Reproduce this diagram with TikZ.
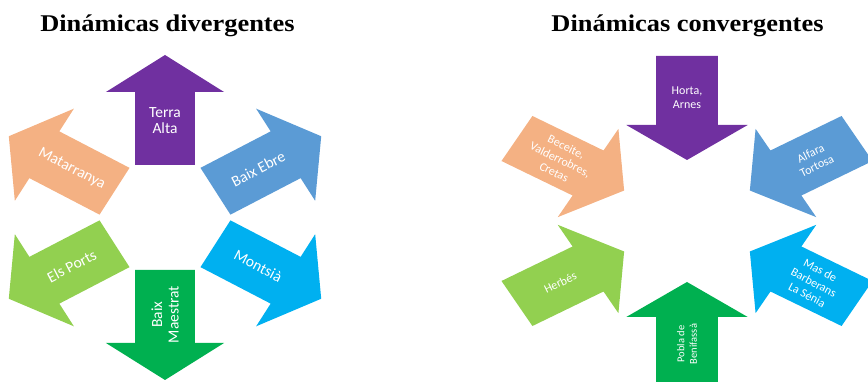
\documentclass[tikz,border=0pt]{standalone}
\usepackage{fontspec}
\setmainfont{Liberation Serif}
\newfontfamily\carlito{Carlito}
\definecolor{arpurple}{HTML}{7030A0}
\definecolor{arblue}{HTML}{5B9BD5}
\definecolor{arcyan}{HTML}{00B0F0}
\definecolor{argreen}{HTML}{00B050}
\definecolor{arlime}{HTML}{92D050}
\definecolor{arpeach}{HTML}{F4B183}
\begin{document}
\begin{tikzpicture}[x=1pt, y=1pt,
                    title/.style={font=\fontsize{24}{28}\selectfont\bfseries, anchor=base},
                    lbl/.style={text=white, align=center, inner sep=0pt, font=\carlito\fontsize{15.5}{16.5}\selectfont},
                    slbl/.style={text=white, align=center, inner sep=0pt, font=\carlito\fontsize{12}{14}\selectfont}
                    ]
    \useasboundingbox (0,0) rectangle (868,382);
    \def\Lx{165}   \def\Ly{164.5}
    \def\Rx{687}   \def\Ry{161}
    
    \coordinate (L) at (\Lx,\Ly);
    \coordinate (R) at (\Rx,\Ry);
    
    \node[title] (tdiv) at (167.5,350.5) {\scalebox{1.1}[1]{Dinámicas divergentes}};
    \node[title] (tcon) at (687.5,350.5) {\scalebox{1.1}[1]{Dinámicas convergentes}};
    
    \begin{scope}[shift={(L)}, xscale=1.11]
        \foreach \a/\c in {90/arpurple, 30/arblue, -30/arcyan, -90/argreen, 210/arlime, 150/arpeach}
            \fill[\c, rotate=\a] (52.5,-27) -- (125.5,-27) -- (125.5,-53.2) -- (162.5,0)
                -- (125.5,53.2) -- (125.5,27) -- (52.5,27) -- cycle;
        \node[lbl] (terra) at (90:97) {Terra\\Alta};
        \node[lbl, rotate=27.5] (ebre) at (30:97) {Baix Ebre};
        \node[lbl, rotate=-27.5] (montsia) at (-30:97) {Montsià};
        \node[lbl, rotate=90] (maestrat) at (-90:97) {Baix\\Maestrat};
        \node[lbl, rotate=27.5] (ports) at (210:97) {Els Ports};
        \node[lbl, rotate=-27.5] (matarranya) at (150:97) {Matarranya};
    \end{scope}
    
    \begin{scope}[shift={(R)}, xscale=1.19]
        \foreach \a/\c in {90/arpurple, 30/arblue, -30/arcyan, -90/argreen, 210/arlime, 150/arpeach}
            \fill[\c, rotate=\a] (165,-26) -- (96,-26) -- (96,-51) -- (61,0)
                -- (96,51) -- (96,26) -- (165,26) -- cycle;
        \node[slbl] (horta) at (90:123) {Horta,\\Arnes};
        \node[slbl, rotate=26] (alfara) at (30:123) {Alfara\\Tortosa};
        \node[slbl, rotate=-28] (barberans) at (-30:123) {Mas de\\Barberans\\La Sénia};
        \node[slbl, rotate=90, font=\carlito\fontsize{10.5}{12.5}\selectfont] (pobla) at (-90:123) {Pobla de\\Benifassà};
        \node[slbl, rotate=26] (herbes) at (210:123) {Herbés};
        \node[slbl, rotate=-26] (beceite) at (150:123) {Beceite,\\Valderrobres,\\Cretas};
    \end{scope}
\end{tikzpicture}
\end{document}
